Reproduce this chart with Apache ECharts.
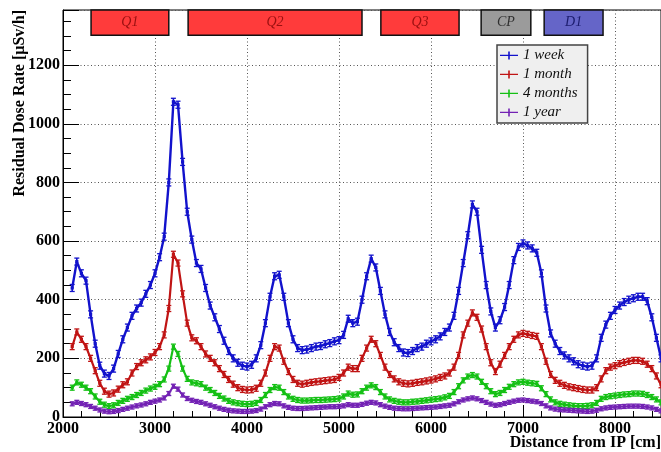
<!DOCTYPE html>
<html>
<head>
<meta charset="utf-8">
<script src="https://cdn.jsdelivr.net/npm/echarts@6/dist/echarts.min.js"></script>
<style>
html,body{margin:0;padding:0;background:#fff;}
#main{width:661px;height:452px;}
</style>
</head>
<body>
<div id="main"></div>
<script>
// residual dose rate [uSv/h], sampled every 50 cm from 2100 cm
var distStart = 2100, distStep = 50;

var week = [
  440, 530, 490, 465, 350, 250, 175, 148, 140, 165,
  215, 265, 305, 345, 370, 390, 420, 450, 490, 545,
  615, 800, 1075, 1065, 870, 700, 605, 525, 505, 440,
  380, 340, 300, 260, 225, 200, 185, 175, 172, 178,
  200, 245, 320, 410, 480, 485, 410, 320, 265, 235,
  228, 230, 235, 240, 242, 248, 252, 258, 262, 280,
  335, 320, 325, 400, 480, 540, 510, 430, 350, 290,
  255, 235, 220, 218, 225, 235, 240, 250, 258, 265,
  275, 290, 305, 345, 430, 525, 620, 725, 700, 570,
  450, 360, 305, 330, 375, 450, 535, 580, 592, 585,
  575, 560, 490, 370, 285, 250, 225, 210, 200, 190,
  180, 175, 172, 175, 200, 270, 315, 345, 365, 380,
  392, 400, 405, 410, 410, 395, 340, 270, 200
];
var month = [
  240, 290, 265, 240, 200, 158, 115, 88, 78, 82,
  95, 110, 120, 150, 172, 185, 195, 205, 220, 240,
  280, 370, 555, 525, 420, 320, 270, 260, 240, 215,
  200, 185, 165, 145, 128, 112, 100, 94, 92, 93,
  98, 115, 150, 200, 240, 235, 190, 155, 128, 115,
  112, 115, 118, 120, 122, 124, 126, 128, 135, 150,
  170, 165, 165, 200, 235, 265, 250, 210, 170, 145,
  130, 120, 115, 113, 115, 118, 120, 123, 126, 130,
  135, 140, 150, 170, 210, 280, 320, 355, 340, 300,
  240, 185, 155, 180, 210, 240, 265, 280, 285, 282,
  278, 275, 240, 190, 145, 125, 115, 108, 103, 100,
  97, 94, 92, 92, 100, 130, 158, 170, 175, 182,
  186, 190, 193, 193, 190, 180, 165, 140, 110
];
var fourMonths = [
  100, 118, 110, 100, 88, 70, 52, 42, 37, 40,
  48, 55, 62, 68, 75, 82, 90, 97, 103, 112,
  128, 165, 240, 215, 165, 130, 118, 115, 112, 100,
  92, 82, 72, 63, 55, 50, 47, 45, 44, 45,
  48, 58, 75, 92, 102, 100, 85, 70, 62, 58,
  56, 56, 57, 58, 58, 59, 60, 61, 63, 70,
  80, 76, 77, 88, 100, 108, 102, 85, 70, 60,
  55, 52, 50, 50, 52, 53, 55, 57, 59, 61,
  63, 67, 72, 85, 105, 125, 138, 143, 138, 120,
  105, 88, 78, 82, 92, 103, 112, 118, 120, 117,
  115, 113, 98, 78, 60, 50, 45, 42, 40, 38,
  37, 37, 38, 40, 48, 62, 68, 71, 73, 75,
  77, 78, 80, 80, 79, 75, 68, 60, 50
];
var year = [
  45, 50, 46, 42, 36, 30, 24, 20, 18, 19,
  22, 26, 30, 34, 38, 41, 45, 50, 54, 58,
  65, 80, 105, 95, 75, 63, 57, 53, 50, 45,
  40, 35, 30, 26, 23, 21, 20, 19, 19, 20,
  22, 27, 35, 42, 46, 45, 38, 33, 30, 29,
  29, 30, 31, 32, 33, 34, 35, 35, 36, 38,
  42, 40, 40, 43, 47, 50, 48, 42, 37, 33,
  30, 29, 28, 28, 29, 30, 31, 32, 33, 34,
  36, 38, 40, 45, 52, 58, 62, 65, 62, 56,
  50, 44, 40, 42, 46, 50, 54, 57, 58, 56,
  54, 52, 46, 38, 31, 27, 25, 24, 23, 22,
  21, 20, 19, 20, 23, 28, 31, 33, 34, 35,
  36, 37, 37, 37, 36, 34, 31, 26, 21
];

// magnet layout along the beam [cm]
var magnetNames = ['Q1', 'Q2', 'Q3', 'CP', 'D1'];
var magnetStart = [2305, 3360, 5455, 6545, 7230];
var magnetEnd   = [3150, 5250, 6305, 7085, 7870];
var magnetBand  = [1302, 1388];

var seriesNames = ['1 week', '1 month', '4 months', '1 year'];
var seriesValues = [week, month, fourMonths, year];

var SERIF = '"Liberation Serif","DejaVu Serif",serif';
var seriesColors = ['#1212cc', '#c01414', '#14c014', '#7322b4'];
var barHalf = [3.5, 3, 2.5, 2];
var bandWidth = [2.4, 2.2, 2.2, 2];
var magnetFill = {Q1: '#ff3b3b', Q2: '#ff3b3b', Q3: '#ff3b3b', CP: '#9b9b9b', D1: '#6565c8'};
var magnetText = {Q1: '#9a1010', Q2: '#9a1010', Q3: '#9a1010', CP: '#303030', D1: '#1c1c6e'};

function pairs(vals) {
  return vals.map(function (v, i) { return [distStart + i * distStep, v]; });
}

// ROOT-like marker with error bar
function beam(h) {
  return function (params, api) {
    var p = api.coord([api.value(0), api.value(1)]);
    var c = api.visual('color');
    return {
      type: 'group',
      children: [
        {type: 'line', shape: {x1: p[0], y1: p[1] - h, x2: p[0], y2: p[1] + h}, style: {stroke: c, lineWidth: 1.6}},
        {type: 'line', shape: {x1: p[0] - 2.5, y1: p[1] - h, x2: p[0] + 2.5, y2: p[1] - h}, style: {stroke: c, lineWidth: 1.3}},
        {type: 'line', shape: {x1: p[0] - 2.5, y1: p[1] + h, x2: p[0] + 2.5, y2: p[1] + h}, style: {stroke: c, lineWidth: 1.3}},
        {type: 'rect', shape: {x: p[0] - 1.6, y: p[1] - 1.6, width: 3.2, height: 3.2}, style: {fill: c}}
      ]
    };
  };
}

var magnetAreas = magnetNames.map(function (n, i) {
  return [
    {name: n, xAxis: magnetStart[i], yAxis: magnetBand[0],
     itemStyle: {color: magnetFill[n], borderColor: '#111', borderWidth: 1.5},
     label: {color: magnetText[n]}},
    {xAxis: magnetEnd[i], yAxis: magnetBand[1]}
  ];
});

var legendIcon = 'path://M0,4.2h18v1.4h-18z M8.2,1h1.6v8h-1.6z';

var series = [];
seriesNames.forEach(function (n, k) {
  series.push({
    name: n, type: 'line', color: seriesColors[k], data: pairs(seriesValues[k]),
    showSymbol: false, silent: true, lineStyle: {width: bandWidth[k], color: seriesColors[k]}
  });
  series.push({
    name: n, type: 'custom', color: seriesColors[k], renderItem: beam(barHalf[k]), clip: true,
    data: pairs(seriesValues[k])
  });
});
series.push({
  name: 'magnets', type: 'line', data: [], silent: true,
  markArea: {
    silent: true,
    label: {show: true, position: 'inside', fontFamily: SERIF, fontStyle: 'italic', fontSize: 14},
    data: magnetAreas
  }
});

var myChart = echarts.init(document.getElementById('main'));
var option = {
  animation: false,
  backgroundColor: '#fff',
  grid: {left: 63, right: 0, top: 10, bottom: 35, show: true, borderColor: '#000', borderWidth: 1},
  legend: {
    data: seriesNames.map(function (n) { return {name: n, icon: legendIcon}; }),
    orient: 'vertical',
    left: 497, top: 45,
    backgroundColor: '#efefef',
    borderColor: '#444', borderWidth: 1.5, borderRadius: 0,
    padding: [3, 10, 3, 3],
    itemGap: 4,
    itemWidth: 18, itemHeight: 9,
    textStyle: {fontFamily: SERIF, fontStyle: 'italic', fontSize: 15, color: '#111'}
  },
  xAxis: {
    type: 'value', min: 2000, max: 8500, interval: 1000,
    axisLine: {show: true, lineStyle: {color: '#000', width: 1}},
    axisTick: {show: true, inside: true, length: 12, lineStyle: {color: '#000'}},
    minorTick: {show: true, splitNumber: 5, length: 6, lineStyle: {color: '#000'}},
    splitLine: {show: true, lineStyle: {color: '#555', type: [1, 2.5], width: 1}},
    axisLabel: {fontFamily: SERIF, fontWeight: 'bold', fontSize: 16, color: '#000', margin: 4,
                showMaxLabel: false, formatter: function (v) { return String(v); }}
  },
  yAxis: {
    type: 'value', min: 0, max: 1388, interval: 200,
    axisLine: {show: true, lineStyle: {color: '#000', width: 1}},
    axisTick: {show: true, inside: true, length: 16, lineStyle: {color: '#000'}},
    minorTick: {show: true, splitNumber: 4, length: 8, lineStyle: {color: '#000'}},
    splitLine: {show: true, lineStyle: {color: '#555', type: [1, 2.5], width: 1}},
    axisLabel: {fontFamily: SERIF, fontWeight: 'bold', fontSize: 16, color: '#000', margin: 3,
                showMaxLabel: false, formatter: function (v) { return String(v); }}
  },
  graphic: [
    {type: 'text', x: 20, y: 10, rotation: Math.PI / 2,
     style: {text: 'Residual Dose Rate [\u00b5Sv/h]', fontFamily: SERIF, fontWeight: 'bold', fontSize: 16,
             fill: '#000', align: 'right', verticalAlign: 'middle'}},
    {type: 'text', x: 661, y: 443,
     style: {text: 'Distance from IP [cm]', fontFamily: SERIF, fontWeight: 'bold', fontSize: 16,
             fill: '#000', align: 'right', verticalAlign: 'middle'}}
  ],
  series: series
};
myChart.setOption(option);
</script>
</body>
</html>
